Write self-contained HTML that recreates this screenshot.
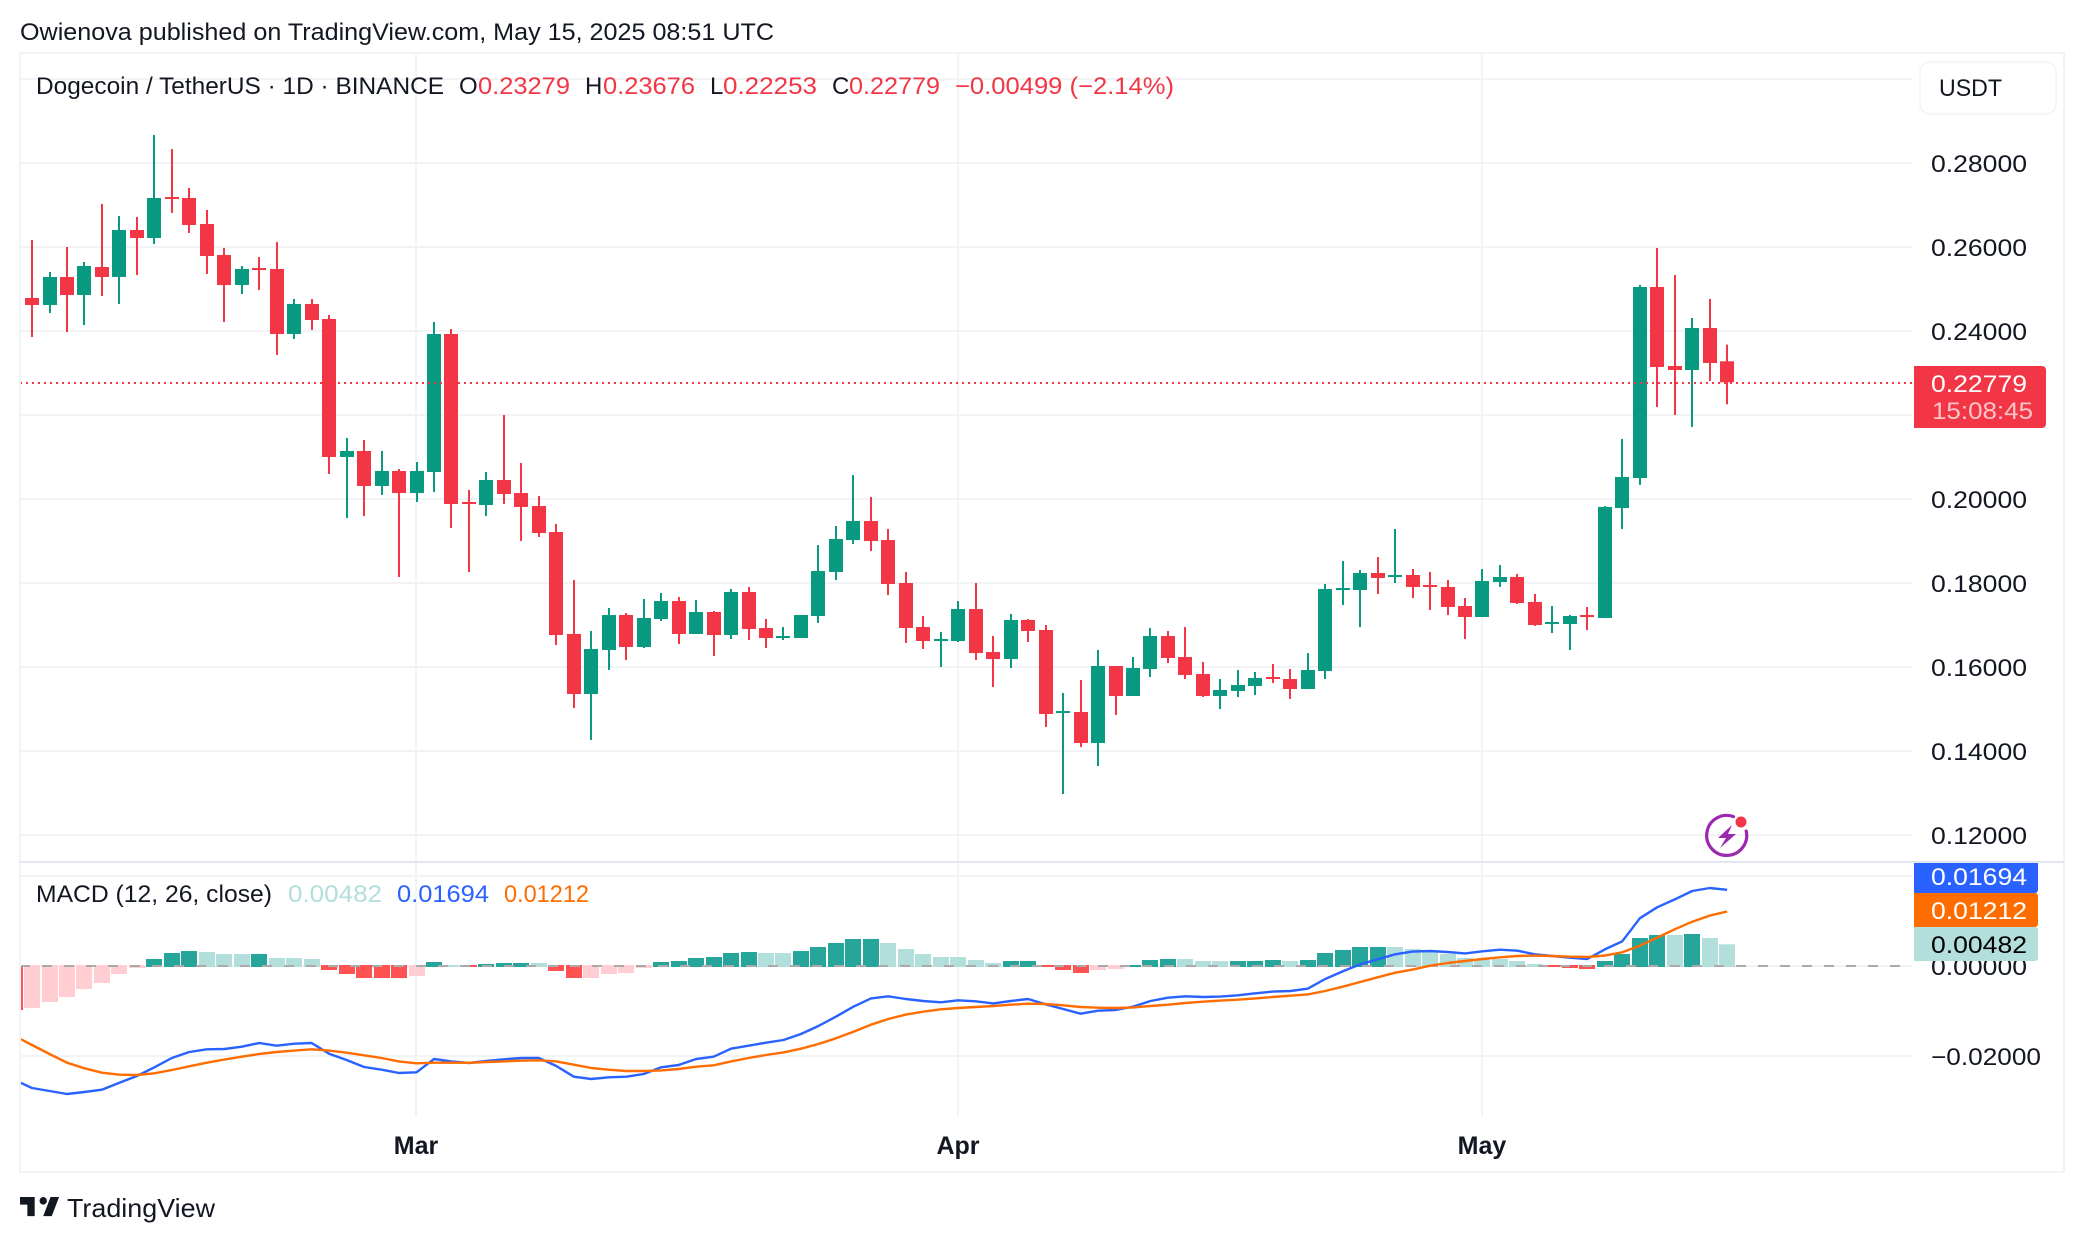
<!DOCTYPE html>
<html lang="en">
<head>
<meta charset="utf-8">
<title>Dogecoin / TetherUS chart</title>
<style>
  html, body { margin: 0; padding: 0; background: #fff; width: 2084px; height: 1242px; overflow: hidden; }
  svg { display: block; }
  text { font-family: "Liberation Sans", Arial, sans-serif; font-size: 24px; fill: #131722; }
</style>
</head>
<body>
<svg id="chart" xmlns="http://www.w3.org/2000/svg" width="2084" height="1242" viewBox="0 0 2084 1242">
  <defs>
    <clipPath id="plot-clip"><rect x="21" y="54" width="1891" height="1062"></rect></clipPath>
  </defs>
  <rect x="0" y="0" width="2084" height="1242" fill="#ffffff"></rect>
  <text x="20" y="40" textLength="754" lengthAdjust="spacingAndGlyphs" fill="#131722">Owienova published on TradingView.com, May 15, 2025 08:51 UTC</text>
  <rect x="20" y="53" width="2044" height="1119" fill="none" stroke="#f2f3f5" stroke-width="2"></rect>

  <g id="grid"></g>
  <rect x="20" y="861" width="2044" height="2" fill="#e3e6f0"></rect>
  <g id="price-pane" clip-path="url(#plot-clip)"></g>
  <g id="macd-pane" clip-path="url(#plot-clip)"></g>
  <g id="axis-labels"></g>

  <g>
    <text x="36" y="94" textLength="408" lengthAdjust="spacingAndGlyphs">Dogecoin / TetherUS · 1D · BINANCE</text>
    <text x="459" y="94">O</text>
    <text x="478" y="94" textLength="92" lengthAdjust="spacingAndGlyphs" style="fill:#F23645">0.23279</text>
    <text x="585" y="94">H</text>
    <text x="603" y="94" textLength="92" lengthAdjust="spacingAndGlyphs" style="fill:#F23645">0.23676</text>
    <text x="710" y="94">L</text>
    <text x="723" y="94" textLength="94" lengthAdjust="spacingAndGlyphs" style="fill:#F23645">0.22253</text>
    <text x="832" y="94">C</text>
    <text x="849" y="94" textLength="91" lengthAdjust="spacingAndGlyphs" style="fill:#F23645">0.22779</text>
    <text x="955" y="94" textLength="219" lengthAdjust="spacingAndGlyphs" style="fill:#F23645">−0.00499 (−2.14%)</text>
  </g>

  <g>
    <text x="36" y="902" textLength="236" lengthAdjust="spacingAndGlyphs">MACD (12, 26, close)</text>
    <text x="288" y="902" textLength="94" lengthAdjust="spacingAndGlyphs" style="fill:#B2DFDB">0.00482</text>
    <text x="397" y="902" textLength="92" lengthAdjust="spacingAndGlyphs" style="fill:#2962FF">0.01694</text>
    <text x="504" y="902" textLength="85" lengthAdjust="spacingAndGlyphs" style="fill:#FF6D00">0.01212</text>
  </g>

  <g>
    <rect x="1920" y="62" width="136" height="52" rx="9" fill="#ffffff" stroke="#f0f3fa" stroke-width="1.5"></rect>
    <text x="1939" y="96" textLength="63" lengthAdjust="spacingAndGlyphs">USDT</text>
  </g>

  <g>
    <path d="M1914 366H2042a4 4 0 0 1 4 4V424a4 4 0 0 1 -4 4H1914Z" fill="#F23645"></path>
    <text x="1931" y="392" textLength="96" lengthAdjust="spacingAndGlyphs" style="fill:#ffffff">0.22779</text>
    <text x="1932" y="419" textLength="101" lengthAdjust="spacingAndGlyphs" style="fill:#fbc4c9">15:08:45</text>
  </g>

  <g>
    <path d="M1914 927H2035a3 3 0 0 1 3 3V958a3 3 0 0 1 -3 3H1914Z" fill="#B2DFDB"></path>
    <text x="1931" y="953" textLength="96" lengthAdjust="spacingAndGlyphs" style="fill:#000000">0.00482</text>
    <path d="M1914 893H2035a3 3 0 0 1 3 3V924a3 3 0 0 1 -3 3H1914Z" fill="#FF6D00"></path>
    <text x="1931" y="919" textLength="96" lengthAdjust="spacingAndGlyphs" style="fill:#ffffff">0.01212</text>
    <path d="M1914 863H2038V890a3 3 0 0 1 -3 3H1914Z" fill="#2962FF"></path>
    <text x="1931" y="885" textLength="96" lengthAdjust="spacingAndGlyphs" style="fill:#ffffff">0.01694</text>
  </g>

  <g>
    <path d="M1733.5 816.6A20 20 0 1 0 1746.2 831" fill="none" stroke="#9C27B0" stroke-width="3.2" stroke-linecap="round"></path>
    <path d="M1732 825L1718 838H1726L1720 848L1736 834H1728Z" fill="#9C27B0"></path>
    <circle cx="1741" cy="822" r="5.5" fill="#F23645"></circle>
  </g>

  <g>
    <path transform="translate(17.6 1189.4) scale(1.22 1.27)" d="M14 6H2v6h6v9h6V6Zm14 15h-7l6-15h7l-6 15Zm-7-9a3 3 0 1 0 0-6 3 3 0 0 0 0 6Z" fill="#131722"></path>
    <text x="67" y="1217" textLength="148" lengthAdjust="spacingAndGlyphs" style="font-size:26px">TradingView</text>
  </g>
</svg>

<script>
const categories = ["02-06","02-07","02-08","02-09","02-10","02-11","02-12","02-13","02-14","02-15","02-16","02-17","02-18","02-19","02-20","02-21","02-22","02-23","02-24","02-25","02-26","02-27","02-28",
"03-01","03-02","03-03","03-04","03-05","03-06","03-07","03-08","03-09","03-10","03-11","03-12","03-13","03-14","03-15","03-16","03-17","03-18","03-19","03-20","03-21","03-22","03-23","03-24","03-25","03-26","03-27","03-28","03-29","03-30","03-31",
"04-01","04-02","04-03","04-04","04-05","04-06","04-07","04-08","04-09","04-10","04-11","04-12","04-13","04-14","04-15","04-16","04-17","04-18","04-19","04-20","04-21","04-22","04-23","04-24","04-25","04-26","04-27","04-28","04-29","04-30",
"05-01","05-02","05-03","05-04","05-05","05-06","05-07","05-08","05-09","05-10","05-11","05-12","05-13","05-14","05-15"];

const opens = [null,.24786,.24619,.25286,.24857,.25524,.25286,.26405,.26214,.27190,.27167,.26548,.25810,.25095,.25500,.25476,.23929,.24643,.24286,.21000,.21143,.20310,.20667,.20143,.20643,.23929,.19929,.19857,.20452,.20143,.19833,.19214,.16786,.15357,.16405,.17238,.16476,.17143,.17571,.16786,.17310,.16762,.17786,.16929,.16690,.16690,.17214,.18262,.19024,.19476,.19024,.18000,.16952,.16619,.16619,.17381,.16357,.16190,.17119,.16881,.14905,.14929,.14190,.16024,.15310,.15952,.16738,.16238,.15833,.15310,.15429,.15548,.15762,.15714,.15476,.15905,.17833,.17833,.18238,.18143,.18190,.17952,.17905,.17452,.17190,.18024,.18143,.17548,.17024,.17024,.17238,.17167,.19786,.20500,.25048,.23167,.23071,.24071,.23279];
const highs = [null,.26167,.25405,.26000,.25643,.27024,.26738,.26714,.28667,.28333,.27405,.26881,.25976,.25548,.25762,.26119,.24762,.24762,.24381,.21452,.21405,.21143,.20714,.20881,.24214,.24048,.20214,.20643,.22000,.20857,.20071,.19405,.18071,.16857,.17405,.17286,.17619,.17762,.17667,.17595,.17333,.17857,.17905,.17143,.16952,.17238,.18905,.19357,.20571,.20048,.19286,.18262,.17214,.16833,.17571,.18000,.16738,.17262,.17143,.17000,.15381,.15690,.16405,.16024,.16238,.16929,.16857,.16952,.16119,.15714,.15929,.15881,.16071,.15952,.16333,.17976,.18524,.18310,.18619,.19286,.18333,.18262,.18071,.17643,.18333,.18429,.18214,.17738,.17452,.17238,.17429,.19833,.21429,.25095,.25976,.25333,.24310,.24762,.23676];
const lows = [null,.23857,.24429,.23976,.24143,.24833,.24643,.25333,.26071,.26810,.26333,.25357,.24214,.24881,.24976,.23429,.23810,.24024,.20595,.19548,.19595,.20095,.18143,.19929,.20167,.19310,.18262,.19595,.19881,.19000,.19095,.16524,.15024,.14262,.15929,.16167,.16452,.17095,.16548,.16786,.16262,.16667,.16643,.16452,.16643,.16690,.17048,.18071,.18929,.18762,.17714,.16571,.16429,.16000,.16595,.16167,.15524,.15976,.16595,.14571,.12976,.14095,.13643,.14857,.15310,.15762,.16095,.15714,.15286,.15000,.15286,.15333,.15619,.15238,.15476,.15714,.17476,.16952,.17738,.18000,.17643,.17357,.17238,.16667,.17190,.17905,.17500,.16976,.16810,.16405,.16881,.17167,.19286,.20333,.22190,.22000,.21714,.22810,.22253];
const closes = [null,.24619,.25286,.24857,.25548,.25286,.26405,.26214,.27167,.27143,.26524,.25786,.25095,.25476,.25452,.23929,.24643,.24262,.21000,.21143,.20310,.20667,.20143,.20667,.23929,.19881,.19881,.20452,.20119,.19810,.19190,.16762,.15357,.16429,.17238,.16476,.17167,.17571,.16786,.17310,.16762,.17786,.16905,.16690,.16738,.17238,.18286,.19048,.19476,.19000,.17976,.16929,.16619,.16667,.17381,.16333,.16190,.17119,.16857,.14881,.14952,.14190,.16024,.15310,.15976,.16738,.16214,.15810,.15310,.15452,.15571,.15738,.15714,.15476,.15929,.17857,.17881,.18238,.18119,.18190,.17905,.17905,.17429,.17190,.18048,.18143,.17524,.17000,.17071,.17214,.17190,.19810,.20524,.25048,.23143,.23071,.24071,.23238,.22779];

const macdHistogram = [-.00978,-.00933,-.00800,-.00689,-.00511,-.00378,-.00178,-.00044,.00156,.00289,.00333,.00311,.00267,.00267,.00268,.00178,.00176,.00156,-.00089,-.00178,-.00267,-.00268,-.00269,-.00222,.00089,.00022,-.00022,.00044,.00067,.00068,.00067,-.00111,-.00267,-.00266,-.00178,-.00156,-.00044,.00089,.00111,.00178,.00200,.00289,.00311,.00289,.00288,.00333,.00422,.00511,.00600,.00601,.00511,.00378,.00267,.00200,.00199,.00133,.00067,.00111,.00112,-.00022,-.00089,-.00156,-.00089,-.00067,.00022,.00133,.00156,.00155,.00111,.00110,.00111,.00112,.00133,.00111,.00133,.00289,.00356,.00422,.00423,.00422,.00378,.00311,.00267,.00178,.00156,.00155,.00111,.00044,-.00022,-.00044,-.00067,.00111,.00267,.00622,.00689,.00688,.00711,.00622,.00482];
const macdLine = [-.02533,-.02711,-.02778,-.02844,-.02800,-.02748,-.02593,-.02444,-.02252,-.02044,-.01911,-.01852,-.01844,-.01793,-.01711,-.01770,-.01726,-.01711,-.01948,-.02089,-.02244,-.02304,-.02378,-.02363,-.02067,-.02119,-.02156,-.02111,-.02074,-.02044,-.02045,-.02222,-.02459,-.02511,-.02474,-.02459,-.02400,-.02252,-.02200,-.02067,-.02015,-.01837,-.01770,-.01704,-.01644,-.01511,-.01333,-.01126,-.00904,-.00719,-.00674,-.00733,-.00778,-.00807,-.00763,-.00785,-.00830,-.00778,-.00733,-.00852,-.00956,-.01059,-.00993,-.00978,-.00904,-.00778,-.00704,-.00674,-.00689,-.00681,-.00652,-.00607,-.00570,-.00556,-.00504,-.00289,-.00119,.00037,.00148,.00259,.00319,.00333,.00311,.00281,.00326,.00363,.00341,.00259,.00222,.00185,.00156,.00370,.00548,.01059,.01304,.01481,.01667,.01733,.01694];
const signalLine = [-.01556,-.01756,-.01956,-.02148,-.02274,-.02370,-.02415,-.02422,-.02385,-.02311,-.02230,-.02148,-.02081,-.02015,-.01956,-.01911,-.01881,-.01852,-.01881,-.01926,-.01985,-.02044,-.02119,-.02163,-.02148,-.02149,-.02150,-.02133,-.02119,-.02104,-.02096,-.02119,-.02193,-.02267,-.02304,-.02333,-.02334,-.02319,-.02289,-.02237,-.02207,-.02119,-.02044,-.01978,-.01919,-.01837,-.01733,-.01607,-.01459,-.01304,-.01178,-.01081,-.01015,-.00963,-.00933,-.00911,-.00889,-.00859,-.00837,-.00844,-.00874,-.00911,-.00926,-.00933,-.00919,-.00889,-.00859,-.00822,-.00793,-.00770,-.00748,-.00719,-.00689,-.00659,-.00630,-.00556,-.00459,-.00356,-.00252,-.00148,-.00081,.00007,.00067,.00111,.00156,.00193,.00222,.00230,.00222,.00207,.00200,.00230,.00304,.00452,.00630,.00815,.00985,.01119,.01212];

const priceTicks = [0.30, 0.28, 0.26, 0.24, 0.22, 0.20, 0.18, 0.16, 0.14, 0.12];
const macdTicks = [0.02, 0, -0.02];
const monthTicks = ["03-01", "04-01", "05-01"];
const monthLabels = ["Mar", "Apr", "May"];
const lastPrice = 0.22779;

const NS = "http://www.w3.org/2000/svg";
const UP = "#089981", DOWN = "#F23645";
const PLOT_LEFT = 20, PLOT_RIGHT = 1912, PLOT_TOP = 53, PLOT_BOTTOM = 1116;

function xScale(i) { return 416.5 + (i - categories.indexOf("03-01")) * 17.475; }
function yPrice(v) { return 163 + (0.28 - v) * 4200; }
function yMacd(v) { return 966 - v * 4500; }
function fmt(v) { return (v < 0 ? "\u2212" : "") + Math.abs(v).toFixed(5); }

function make(tag, parent, attrs) {
  const el = document.createElementNS(NS, tag);
  for (const k in attrs) el.setAttribute(k, attrs[k]);
  parent.appendChild(el);
  return el;
}

const grid = document.getElementById("grid");
const pricePane = document.getElementById("price-pane");
const macdPane = document.getElementById("macd-pane");
const axisLabels = document.getElementById("axis-labels");

priceTicks.forEach(function (t) {
  const y = Math.round(yPrice(t));
  const line = make("rect", grid, { x: PLOT_LEFT, y: y - 1, width: PLOT_RIGHT - PLOT_LEFT, height: 2, fill: "#f2f3f5" });
  
  
  const label = make("text", axisLabels, { x: 1931, y: y + 9, textLength: 96, lengthAdjust: "spacingAndGlyphs" });
  label.textContent = fmt(t);
  
  
});

macdTicks.forEach(function (t) {
  const y = Math.round(yMacd(t));
  const line = make("rect", grid, { x: PLOT_LEFT, y: y - 1, width: PLOT_RIGHT - PLOT_LEFT, height: 2, fill: "#f2f3f5" });
  
  
  const label = make("text", axisLabels, { x: 1931, y: y + 9, textLength: t < 0 ? 110 : 96, lengthAdjust: "spacingAndGlyphs" });
  label.textContent = fmt(t);
  
  
});

monthTicks.forEach(function (m, k) {
  const x = Math.floor(xScale(categories.indexOf(m)));
  const line = make("rect", grid, { x: x - 1, y: PLOT_TOP, width: 2, height: PLOT_BOTTOM - PLOT_TOP, fill: "#f2f3f5" });
  
  
  const label = make("text", axisLabels, { x: x, y: 1154, "text-anchor": "middle", "font-weight": "bold", style: "font-size:25px" });
  label.textContent = monthLabels[k];
  
  
});

categories.forEach(function (day, i) {
  if (opens[i] === null) return;
  const c = closes[i] >= opens[i] ? UP : DOWN;
  const cx = Math.round(xScale(i));
  const yTop = yPrice(Math.max(opens[i], closes[i]));
  const yBot = yPrice(Math.min(opens[i], closes[i]));
  const wick = make("rect", pricePane, { x: cx - 1, y: yPrice(highs[i]), width: 2, height: yPrice(lows[i]) - yPrice(highs[i]), fill: c });
  
  
  const body = make("rect", pricePane, { x: cx - 7, y: yTop, width: 14, height: Math.max(2, yBot - yTop), fill: c });
  
  
});

const lastY = Math.round(yPrice(lastPrice)) + 1;
const lastLine = make("line", pricePane, { x1: PLOT_LEFT, x2: PLOT_RIGHT, y1: lastY, y2: lastY, stroke: DOWN, "stroke-width": 2, "stroke-dasharray": "2 4" });



macdHistogram.forEach(function (v, i) {
  const prev = i > 0 ? macdHistogram[i - 1] : Infinity;
  let c;
  if (v >= 0) c = v > prev ? "#26A69A" : "#B2DFDB";
  else c = v < prev ? "#FF5252" : "#FFCDD2";
  const cx = Math.round(xScale(i));
  const top = v >= 0 ? yMacd(v) : yMacd(0) - 1;
  const bottom = v >= 0 ? yMacd(0) + 1 : yMacd(v);
  const bar = make("rect", macdPane, { x: cx - 8, y: top, width: 16, height: bottom - top, fill: c });
  
  
});

const zeroLine = make("line", macdPane, { x1: PLOT_LEFT, x2: PLOT_RIGHT, y1: yMacd(0), y2: yMacd(0), stroke: "#aaaaaa", "stroke-width": 2, "stroke-dasharray": "10 12" });



function linePoints(values) {
  return values.map(function (v, i) { return xScale(i).toFixed(1) + "," + yMacd(v).toFixed(1); }).join(" ");
}

const macdPath = make("polyline", macdPane, { points: linePoints(macdLine), fill: "none", stroke: "#2962FF", "stroke-width": 2.4, "stroke-linejoin": "round" });



const signalPath = make("polyline", macdPane, { points: linePoints(signalLine), fill: "none", stroke: "#FF6D00", "stroke-width": 2.4, "stroke-linejoin": "round" });


</script>
</body>
</html>
